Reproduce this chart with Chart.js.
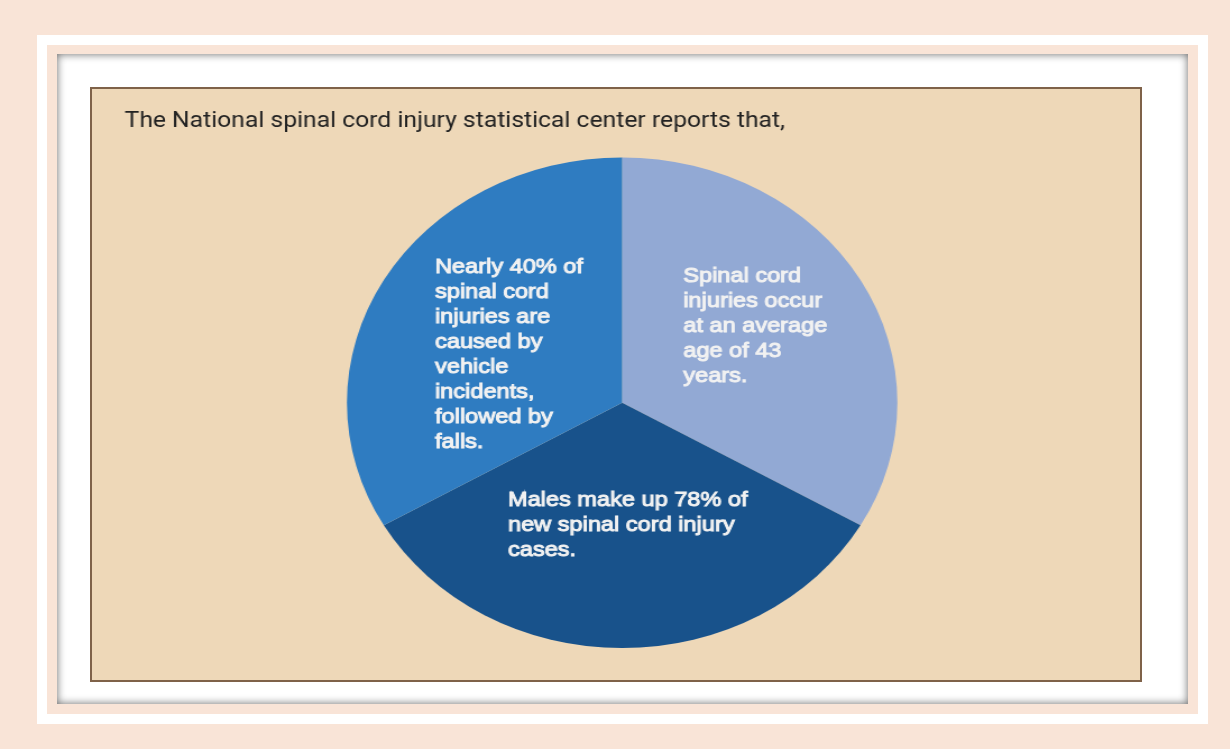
<!DOCTYPE html>
<html>
<head>
<meta charset="utf-8">
<script src="https://cdn.jsdelivr.net/npm/chart.js@4.4.1/dist/chart.umd.min.js"></script>
<style>
  html, body { margin: 0; padding: 0; }
  body { width: 1230px; height: 749px; background: #f9e4d7; position: relative; overflow: hidden; }
  .frame { position: absolute; left: 37px; top: 35px; width: 1171px; height: 689px; border: 10px solid #ffffff; box-sizing: border-box; }
  .box { position: absolute; left: 57px; top: 54px; width: 1131px; height: 650px; background: #ffffff; box-shadow: inset 0 0 9px rgba(0,0,0,0.6); }
  .panel { position: absolute; left: 90px; top: 87px; width: 1052px; height: 595px; box-sizing: border-box; background: #eed8b8; border: 2px solid #7f6249; }
  /* the source picture is stretched sideways, so is the chart */
  .chart-wrap { position: absolute; left: 92px; top: 89px; width: 934px; height: 591px; transform: scaleX(1.122); transform-origin: 0 0; }
</style>
</head>
<body>
<div class="frame"></div>
<div class="box"></div>
<div class="panel"></div>
<div class="chart-wrap"><canvas id="spinal-pie"></canvas></div>
<script>
// data
const titleText = "The National spinal cord injury statistical center reports that,";
const categories = ["Average age", "Males", "Vehicle incidents"];
const shares = [33.3, 33.3, 33.3];
const sliceColors = ["#92a9d4", "#18528b", "#2f7cc1"];
const sliceText = [
  ["Spinal cord", "injuries occur", "at an average", "age of 43", "years."],
  ["Males make up 78% of", "new spinal cord injury", "cases."],
  ["Nearly 40% of", "spinal cord", "injuries are", "caused by", "vehicle", "incidents,", "followed by", "falls."],
];

// where each text block starts (first baseline), as fraction of the radius
const textAnchor = [
  [0.222, -0.491],
  [-0.415, 0.423],
  [-0.68, -0.529],
];

const spinal_pie = document.getElementById("spinal-pie");

const sliceTextPlugin = {
  id: "sliceText",
  afterDatasetsDraw(chart) {
    const ctx = chart.ctx;
    const meta = chart.getDatasetMeta(0);
    ctx.save();
    ctx.fillStyle = "#f2f2f2";
    ctx.strokeStyle = "#f2f2f2";
    ctx.lineWidth = 1;
    ctx.font = "21px 'Liberation Sans', Arial, sans-serif";
    ctx.textBaseline = "alphabetic";
    ctx.textAlign = "left";
    meta.data.forEach((arc, i) => {
      const r = arc.outerRadius;
      const x = arc.x + textAnchor[i][0] * r;
      const y = arc.y + textAnchor[i][1] * r;
      sliceText[i].forEach((line, j) => {
        ctx.fillText(line, x, y + j * 25);
        ctx.strokeText(line, x, y + j * 25);
      });
    });
    ctx.restore();
  },
};

new Chart(spinal_pie, {
  type: "pie",
  data: {
    labels: categories,
    datasets: [
      {
        data: shares,
        backgroundColor: sliceColors,
        borderWidth: 0,
      },
    ],
  },
  options: {
    responsive: true,
    maintainAspectRatio: false,
    animation: false,
    layout: {
      padding: { top: 8, bottom: 32, left: 29, right: 18 },
    },
    plugins: {
      legend: { display: false },
      tooltip: { enabled: false },
      title: {
        display: true,
        text: titleText,
        align: "start",
        color: "#222222",
        font: { family: "Roboto", size: 22, weight: "normal" },
        padding: { top: 11, bottom: 23 },
      },
    },
  },
  plugins: [sliceTextPlugin],
});
</script>
</body>
</html>
